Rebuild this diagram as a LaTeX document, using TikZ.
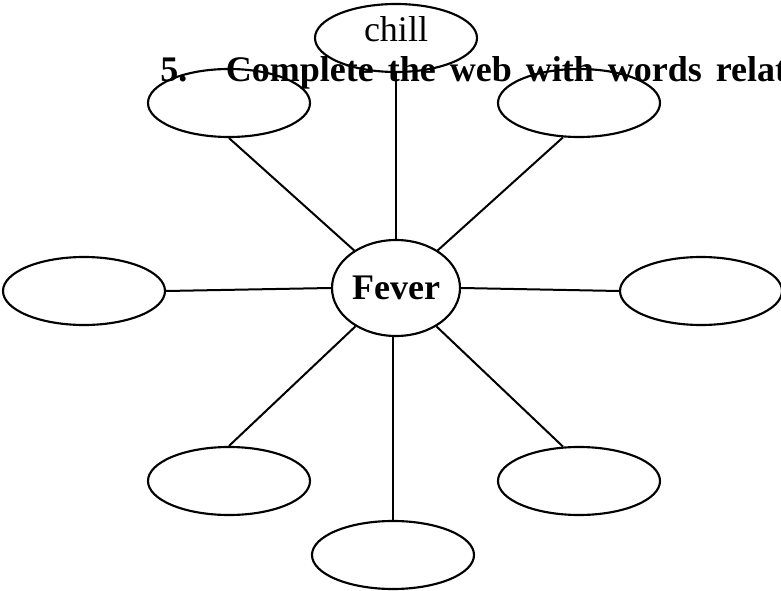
\documentclass[tikz,border=0pt]{standalone}
\usepackage{fontspec}
\setmainfont{Liberation Serif}
\usetikzlibrary{shapes}

\begin{document}
\begin{tikzpicture}[x=0.75pt,y=-0.75pt]
    \useasboundingbox (0,0) rectangle (781,591);
    \node[anchor=base west,inner sep=0pt,font=\fontsize{27}{32}\selectfont\bfseries] (t) at (160,82) {\spaceskip=10.5pt\relax 5.\hspace{29pt}Complete the web with words relat};
    \begin{scope}[every node/.style={ellipse,draw,line width=1.6pt,inner sep=0pt,minimum width=121.5pt,minimum height=51pt,font=\fontsize{27}{32}\selectfont}]
    \node (a) at (396,38) {\raisebox{-3pt}[0pt][0pt]{chill}};
    \node (b) at (229,103) {};
    \node (c) at (579,103) {};
    \node (d) at (84,291) {};
    \node (e) at (701,291) {};
    \node (g) at (229,481) {};
    \node (h) at (579,481) {};
    \node (i) at (393,555) {};
    \node[minimum width=96pt,minimum height=72pt,font=\fontsize{27}{32}\selectfont\bfseries] (f) at (396,288) {Fever};
    \end{scope}
    \begin{scope}[every edge/.style={draw=black,line width=1.5pt}]
    \path (a) edge (f);
    \path (b.south) edge (f);
    \path (c.245) edge (f);
    \path (f.west) edge (d.east);
    \path (f.east) edge (e.west);
    \path (g.north) edge (f);
    \path (h.115) edge (f);
    \path (i.north) edge (i.north |- f.south);
    \end{scope}
\end{tikzpicture}
\end{document}
